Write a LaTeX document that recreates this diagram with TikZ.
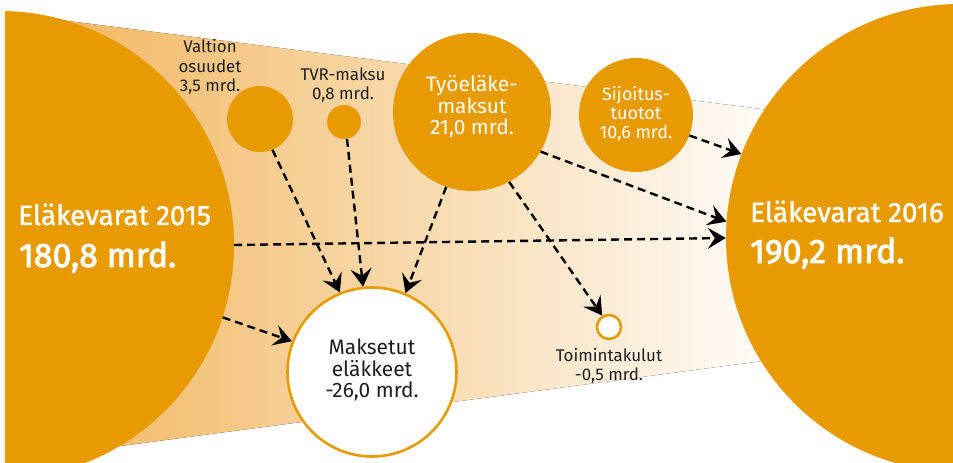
\documentclass[tikz,border=0pt]{standalone}
\usepackage{fontspec}
\setmainfont{Fira Sans}
\newfontfamily\firamid{Fira Sans}[FakeBold=1.3]
\newfontfamily\firasemi{Fira Sans}[FakeBold=2.6]
\usepackage{tikz}
\usetikzlibrary{arrows.meta}
\definecolor{penorange}{RGB}{232,155,0}
\definecolor{bandleft}{RGB}{242,184,99}
\definecolor{bandright}{RGB}{255,255,255}
\definecolor{labelgray}{RGB}{30,30,30}

\begin{document}
\begin{tikzpicture}[x=1bp,y=-1bp,
    ball/.style={circle,fill=penorange,inner sep=0pt,minimum size=#1},
    outball/.style={circle,draw=penorange,line width=2.6bp,fill=white,inner sep=0pt,minimum size=#1},
    flow/.style={dash pattern=on 8bp off 5bp,line width=2.4bp,
        -{Stealth[length=18bp,width=21bp,inset=7bp]}},
    lbl/.style={font=\fontsize{17}{19.5}\selectfont,align=center,text=labelgray,inner sep=0pt},
    inlbl/.style={font=\fontsize{21}{21.5}\selectfont,align=center,text=white,inner sep=0pt},
    biglbl/.style={font=\fontsize{28}{30}\selectfont\firamid,text=white,inner sep=0pt,anchor=base west},
    bignum/.style={font=\fontsize{34}{36}\selectfont\firasemi,text=white,inner sep=0pt,anchor=base west}]
                \useasboundingbox (0,0) rectangle (953,463);

                % Band and the two reserves
                \begin{scope}
                \clip (5,0) rectangle (953,463);
                \fill[left color=bandleft,right color=bandright]
                    (60,20) -- (800,114) -- (800,356) -- (60,454) -- cycle;
                \node[ball=468bp] (v2015) at (0,245) {};
                \node[ball=468bp] (v2016) at (960,238) {};
                \end{scope}

                % Inflows
                \node[ball=66bp] (valtio) at (260,119) {};
                \node[ball=34bp] (tvr) at (344,122) {};
                \node[ball=158bp] (tyel) at (472,112) {};
                \node[ball=114bp] (sijoitus) at (636,115) {};

                % Outflows
                \node[outball=169bp] (maksetut) at (372,372) {};
                \node[outball=24bp] (kulut) at (609,327) {};

                % Texts
                \node[biglbl] (t2015) at (18,225) {Eläkevarat 2015};
                \node[bignum] (n2015) at (19,267) {180,8 mrd.};
                \node[biglbl] (t2016) at (750,222) {Eläkevarat 2016};
                \node[bignum] (n2016) at (750,263) {190,2 mrd.};
                \node[lbl] (valtiolbl) at (210,67) {Valtion\\osuudet\\3,5 mrd.};
                \node[lbl] (tvrlbl) at (343,85) {TVR-maksu\\0,8 mrd.};
                \node[inlbl] (tyellbl) at (472,107) {Työeläke-\\maksut\\21,0 mrd.};
                \node[lbl,font=\fontsize{18}{19.5}\selectfont,text=white] (sijoituslbl) at (636,114) {Sijoitus-\\tuotot\\10,6 mrd.};
                \node[inlbl,text=labelgray] (maksetutlbl) at (372,370) {Maksetut\\eläkkeet\\-26,0 mrd.};
                \node[lbl] (kulutlbl) at (609,366) {Toimintakulut\\-0,5 mrd.};

                % Flows
                \draw[flow] (valtio.-68) -- (maksetut.112);
                \draw[flow] (tvr.-80) -- (maksetut.96);
                \draw[flow] (tyel.-109) -- (maksetut.67);
                \draw[flow] (tyel.-62) -- (kulut.121);
                \draw[flow] (tyel.-30) -- (v2016.176);
                \draw[flow] (sijoitus.-21) -- (v2016.159);
                \draw[flow] (v2015.0) -- (v2016.180);
                \draw[flow] (v2015.-18) -- (maksetut.159);
            \end{tikzpicture}
\end{document}
